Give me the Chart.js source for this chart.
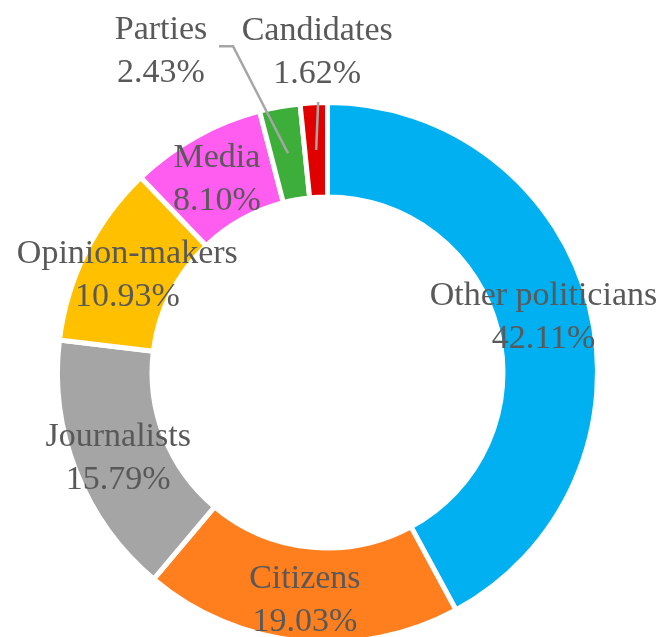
<!DOCTYPE html>
<html>
<head>
<meta charset="utf-8">
<script src="https://cdn.jsdelivr.net/npm/chart.js@4/dist/chart.umd.min.js"></script>
<style>
  html, body { margin: 0; padding: 0; background: #fff; overflow: hidden; }
  #wrap { position: absolute; left: 0; top: 0; width: 660px; height: 660px; }
</style>
</head>
<body>
<div id="wrap"><canvas id="sources-chart"></canvas></div>
<script>
// share of mentions by source type (%)
const categories = ['Other politicians', 'Citizens', 'Journalists', 'Opinion-makers', 'Media', 'Parties', 'Candidates'];
const shares = [42.11, 19.03, 15.79, 10.93, 8.10, 2.43, 1.62];

const sliceColors = ['#00B0F0', '#FF7F1F', '#A5A5A5', '#FFC000', '#FF5CF0', '#3DAE3A', '#E00000'];

// label placement: offset from the slice centre, and whether a leader line is drawn
const labelLayout = [
  { dx: 0, dy: 0 },
  { dx: 0, dy: 6 },
  { dx: -2, dy: 4 },
  { dx: -1, dy: 3 },
  { dx: -2, dy: 2 },
  { dx: -127, dy: -102, leader: true },
  { dx: 1, dy: -97, leader: true }
];

const LINE_GAP = 43;
const labelFont = '34px "Liberation Serif", "Times New Roman", serif';

const sliceLabels = {
  id: 'sliceLabels',
  afterDatasetsDraw(chart) {
    const ctx = chart.ctx;
    const meta = chart.getDatasetMeta(0);
    ctx.save();
    ctx.font = labelFont;
    ctx.textAlign = 'center';
    ctx.textBaseline = 'middle';
    meta.data.forEach((arc, i) => {
      const p = arc.getCenterPoint();
      const lay = labelLayout[i];
      const x = p.x + lay.dx;
      const y = p.y + lay.dy;
      if (lay.leader) {
        ctx.strokeStyle = '#A6A6A6';
        ctx.lineWidth = 2.5;
        ctx.beginPath();
        if (lay.dx < -40) {
          // label sits to the left: short horizontal run, then down to the slice
          ctx.moveTo(x + 58, y - 5);
          ctx.lineTo(x + 72, y - 5);
        } else {
          ctx.moveTo(x + 1, y + 49);
        }
        ctx.lineTo(p.x, p.y);
        ctx.stroke();
      }
      ctx.fillStyle = '#595959';
      ctx.fillText(categories[i], x, y - LINE_GAP / 2);
      ctx.fillText(shares[i].toFixed(2) + '%', x, y + LINE_GAP / 2);
    });
    ctx.restore();
  }
};

new Chart(document.getElementById('sources-chart').getContext('2d'), {
  type: 'doughnut',
  data: {
    labels: categories,
    datasets: [{
      data: shares,
      backgroundColor: sliceColors,
      borderColor: '#ffffff',
      borderWidth: 5
    }]
  },
  options: {
    responsive: true,
    maintainAspectRatio: false,
    animation: false,
    cutout: '65%',
    layout: { padding: { left: 55, top: 100, right: 60, bottom: 15 } },
    plugins: {
      legend: { display: false },
      tooltip: { enabled: false }
    }
  },
  plugins: [sliceLabels]
});
</script>
</body>
</html>
